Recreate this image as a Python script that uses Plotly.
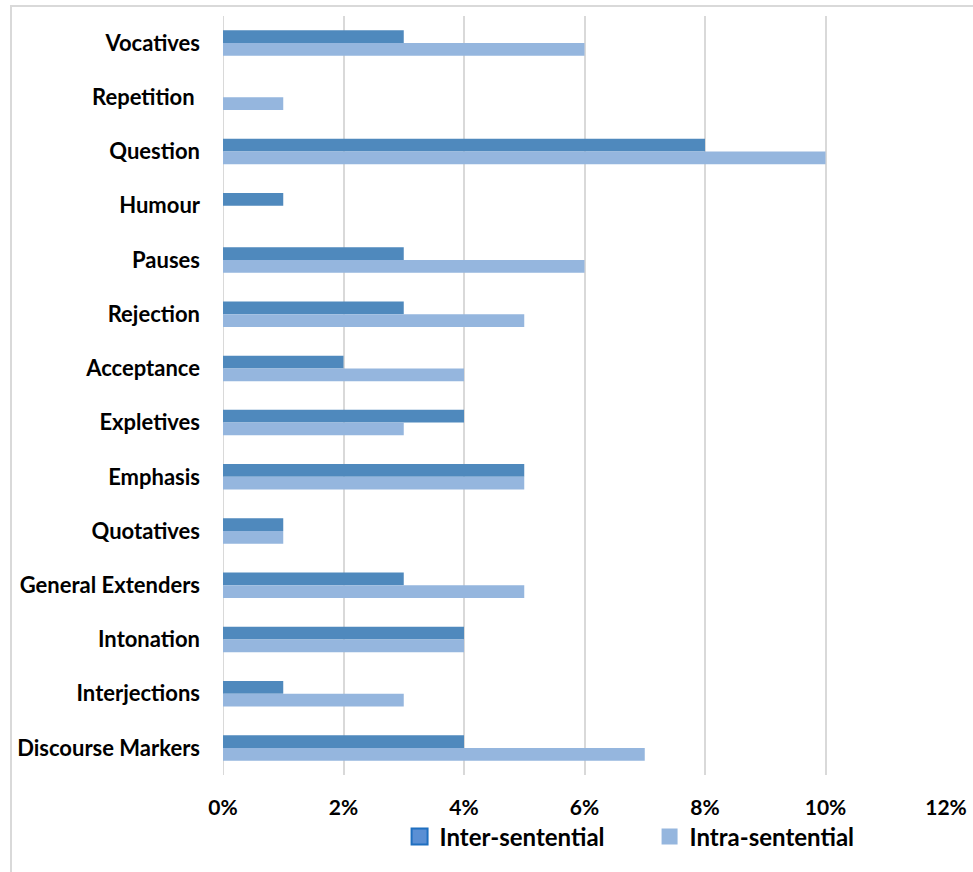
import plotly.graph_objects as go

categories = ["Vocatives", "Repetition ", "Question", "Humour", "Pauses", "Rejection",
              "Acceptance", "Expletives", "Emphasis", "Quotatives", "General Extenders",
              "Intonation", "Interjections", "Discourse Markers"]
inter = [0.03, 0.0, 0.08, 0.01, 0.03, 0.03, 0.02, 0.04, 0.05, 0.01, 0.03, 0.04, 0.01, 0.04]
intra = [0.06, 0.01, 0.10, 0.0, 0.06, 0.05, 0.04, 0.03, 0.05, 0.01, 0.05, 0.04, 0.03, 0.07]
x_ticks = [0, 0.02, 0.04, 0.06, 0.08, 0.10, 0.12]

FONT = "Lato"
INTER_COLOR = "#4f89bd"
INTRA_COLOR = "#95b6de"

fig = go.Figure()
fig.add_trace(go.Bar(y=categories, x=inter, orientation="h", name="Inter-sentential",
                     marker=dict(color=INTER_COLOR, line=dict(width=0)), showlegend=False))
fig.add_trace(go.Bar(y=categories, x=intra, orientation="h", name="Intra-sentential",
                     marker=dict(color=INTRA_COLOR, line=dict(width=0)), showlegend=False))
# legend entries with larger square swatches
fig.add_trace(go.Scatter(x=[None], y=[None], mode="markers", name="Inter-sentential",
                         marker=dict(symbol="square", size=21, color="#5a8fd4",
                                     line=dict(color="#1f6fc0", width=2))))
fig.add_trace(go.Scatter(x=[None], y=[None], mode="markers", name="Intra-sentential",
                         marker=dict(symbol="square", size=22, color=INTRA_COLOR,
                                     line=dict(width=0))))

fig.update_layout(
    width=973, height=872,
    margin=dict(l=223, r=27, t=16, b=97, autoexpand=False),
    paper_bgcolor="white", plot_bgcolor="white",
    barmode="group", bargap=0.53, bargroupgap=0,
    font=dict(family=FONT, color="black"),
    showlegend=True,
    legend=dict(orientation="h", x=0.59, xanchor="center", y=-0.052, yanchor="top",
                bgcolor="rgba(255,255,255,0)", font=dict(size=24, family=FONT, weight="bold"),
                itemsizing="trace", itemwidth=30, entrywidth=205),
    xaxis=dict(range=[0, 0.12], tickvals=x_ticks, tickformat=".0%",
               showgrid=True, gridcolor="#d9d9d9", gridwidth=2,
               zeroline=False, showline=False, ticks="", automargin=False,
               ticklabelstandoff=18,
               tickfont=dict(size=21, family=FONT, weight="bold")),
    yaxis=dict(autorange="reversed", showgrid=False, zeroline=False, showline=False,
               ticks="", ticklabelstandoff=22, automargin=False,
               tickfont=dict(size=22, family=FONT, weight="bold")),
)
fig.add_shape(type="line", xref="x", yref="paper", x0=0, x1=0, y0=0, y1=1,
              line=dict(color="#d9d9d9", width=2), layer="below")
fig.add_shape(type="rect", xref="paper", yref="paper", x0=-0.2932, x1=1.06, y0=-0.2, y1=1.0132,
              line=dict(color="#d9d9d9", width=2), layer="below")

fig.write_html("out.html")
